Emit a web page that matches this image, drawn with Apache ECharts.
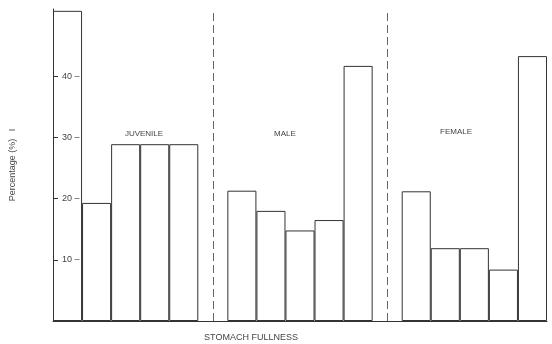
<!DOCTYPE html>
<html>
<head>
<meta charset="utf-8">
<script src="https://cdn.jsdelivr.net/npm/echarts@6/dist/echarts.min.js"></script>
<style>
  html, body { margin: 0; padding: 0; background: #fff; }
  #chart { width: 552px; height: 344px; }
</style>
</head>
<body>
<div id="chart"></div>
<script>
// Percentage of fish in each stomach-fullness class, per group
const juvenile = [50.7, 19.3, 28.9, 28.9, 28.9];
const male = [21.3, 18.0, 14.8, 16.5, 41.7];
const female = [21.2, 11.9, 11.9, 8.4, 43.3];
const groupNames = ['JUVENILE', 'MALE', 'FEMALE'];
const yTicks = [10, 20, 30, 40];

// One slot per fullness class, with an empty slot between the groups
const categories = [];
const values = [];
const gapNames = [];
[juvenile, male, female].forEach((arr, g) => {
  if (g > 0) {
    const name = 'gap' + g;
    gapNames.push(name);
    categories.push(name);
    values.push('-');
  }
  arr.forEach((v, i) => {
    categories.push(groupNames[g] + ' ' + (i + 1));
    values.push(v);
  });
});

const ink = '#333';
const textColor = '#444';
const font = 'Liberation Sans, Arial, sans-serif';

const chart = echarts.init(document.getElementById('chart'), null, { renderer: 'canvas' });

chart.setOption({
  animation: false,
  backgroundColor: '#fff',
  grid: { left: 52, right: 5, top: 9, bottom: 23 },
  xAxis: {
    type: 'category',
    data: categories,
    boundaryGap: true,
    axisLine: { show: true, lineStyle: { color: ink, width: 1 } },
    axisTick: { show: false },
    axisLabel: { show: false },
    splitLine: { show: false }
  },
  yAxis: {
    type: 'value',
    min: 0,
    max: 51,
    interval: 10,
    z: 10,
    name: 'Percentage (%)   I',
    nameLocation: 'middle',
    nameGap: 36,
    nameRotate: 90,
    nameTextStyle: { color: textColor, fontSize: 9, fontFamily: font },
    axisLine: { show: true, lineStyle: { color: ink, width: 1 } },
    axisTick: { show: true, inside: true, length: 5, customValues: yTicks, lineStyle: { color: ink } },
    axisLabel: {
      show: true,
      inside: true,
      margin: 9,
      customValues: yTicks,
      formatter: v => v + ' –',
      color: textColor,
      fontSize: 9,
      fontFamily: font
    },
    splitLine: { show: false }
  },
  series: [{
    type: 'bar',
    data: values,
    barWidth: '100%',
    barGap: '0%',
    itemStyle: { color: 'rgba(255,255,255,0)', borderColor: ink, borderWidth: 1 },
    markLine: {
      silent: true,
      symbol: ['none', 'none'],
      label: { show: false },
      lineStyle: { color: '#666', width: 1, type: [8, 4] },
      data: gapNames.map(n => [{ coord: [n, 0] }, { coord: [n, 50.5] }])
    }
  }],
  graphic: [
    { type: 'text', x: 144, y: 134, style: { text: groupNames[0], fill: textColor, font: '8px ' + font, textAlign: 'center', textVerticalAlign: 'middle' } },
    { type: 'text', x: 285, y: 134, style: { text: groupNames[1], fill: textColor, font: '8px ' + font, textAlign: 'center', textVerticalAlign: 'middle' } },
    { type: 'text', x: 456, y: 132, style: { text: groupNames[2], fill: textColor, font: '8px ' + font, textAlign: 'center', textVerticalAlign: 'middle' } },
    { type: 'text', x: 251, y: 338, style: { text: 'STOMACH FULLNESS', fill: textColor, font: '9px ' + font, textAlign: 'center', textVerticalAlign: 'middle' } }
  ]
});
</script>
</body>
</html>
